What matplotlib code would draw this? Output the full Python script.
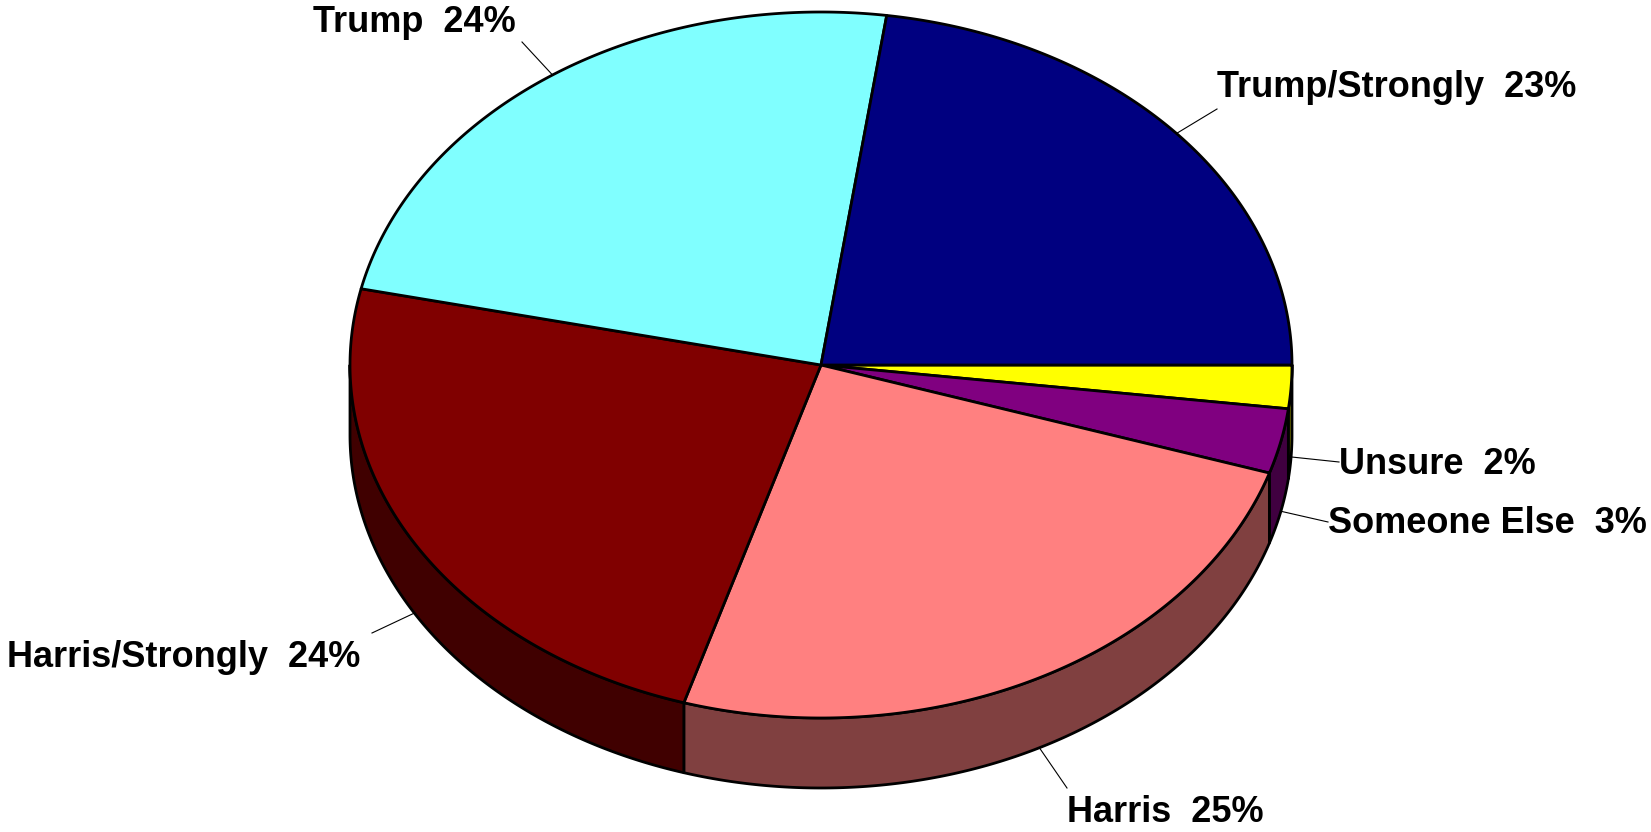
import numpy as np
import matplotlib.pyplot as plt
from matplotlib.patches import Polygon

# slices, clockwise from 3 o'clock
names = ["Unsure", "Someone Else", "Harris", "Harris/Strongly", "Trump", "Trump/Strongly"]
values = [2, 3, 25, 24, 24, 23]
top_colors = ["#FFFF00", "#800080", "#FF8080", "#800000", "#80FFFF", "#000080"]
side_colors = ["#808000", "#400040", "#804040", "#400000", "#408080", "#000040"]

# label placement (pixel space): text anchor and leader start
label_pos = [(1339, 474), (1328, 533), (1067, 822), (7, 667), (313, 32), (1217, 97)]
leader_from = [(1339, 462), (1328, 522), (1067, 788), (372, 633), (522, 42), (1217, 109)]

W, H = 1651, 832
cx, cy = 821, 365
rx, ry, depth = 471, 353, 70

fig = plt.figure(figsize=(W / 100, H / 100), dpi=100)
ax = fig.add_axes([0, 0, 1, 1])
ax.set_xlim(0, W)
ax.set_ylim(H, 0)
ax.axis("off")

frac = np.array(values, dtype=float) / sum(values)
edges = np.concatenate([[0], np.cumsum(frac) * 360])


def arc(a0, a1, dy=0, n=200):
    t = np.radians(np.linspace(a0, a1, n))
    return np.column_stack([cx + rx * np.cos(t), cy + ry * np.sin(t) + dy])


# side walls on the front half
for i in range(len(values)):
    a0, a1 = max(edges[i], 0), min(edges[i + 1], 180)
    if a1 <= a0:
        continue
    top = arc(a0, a1)
    bot = arc(a1, a0, dy=depth)
    ax.add_patch(Polygon(np.vstack([top, bot]), closed=True, facecolor=side_colors[i],
                         edgecolor="black", lw=2, joinstyle="round"))

# top face
for i in range(len(values)):
    pts = np.vstack([[cx, cy], arc(edges[i], edges[i + 1])])
    ax.add_patch(Polygon(pts, closed=True, facecolor=top_colors[i],
                         edgecolor="black", lw=2, joinstyle="round"))

# labels and leader lines
for i in range(len(values)):
    mid = np.radians((edges[i] + edges[i + 1]) / 2)
    ex = cx + rx * np.cos(mid)
    ey = cy + ry * np.sin(mid)
    if np.sin(mid) > 0:
        ey += depth
    lx, ly = leader_from[i]
    ax.plot([lx, ex], [ly, ey], color="black", lw=0.8)
    tx, ty = label_pos[i]
    ax.text(tx, ty, f"{names[i]}  {values[i]}%", ha="left", va="baseline",
            fontsize=26, fontweight="bold", family="Liberation Sans")

fig.savefig("out.png", dpi=100, facecolor="white")
